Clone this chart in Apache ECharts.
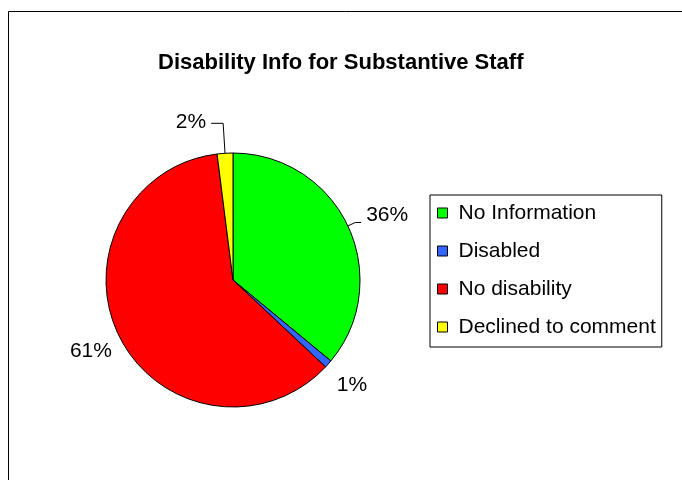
<!DOCTYPE html>
<html>
<head>
<meta charset="utf-8">
<script src="https://cdn.jsdelivr.net/npm/echarts@6/dist/echarts.min.js"></script>
<style>
  html, body { margin: 0; padding: 0; background: #fff; }
  #chart { width: 682px; height: 480px; }
</style>
</head>
<body>
<div id="chart"></div>
<script>
const categories = ['No Information', 'Disabled', 'No disability', 'Declined to comment'];
const values = [36, 1, 61, 2];
const colors = ['#00FF00', '#3366FF', '#FF0000', '#FFFF00'];

const FONT = '"Liberation Sans", Arial, sans-serif';

// per-slice label placement tweaks (style only)
const labelCfg = [
  { line: true,  length: 8,  length2: 6,  dx: 0,  dy: -7 },
  { line: false, length: 14, length2: 0,  dx: -7, dy: 12 },
  { line: false, length: 10, length2: 0,  dx: 6,  dy: 9 },
  { line: true,  length: 30, length2: 12, dx: 0,  dy: -1 }
];

const data = categories.map((name, i) => ({
  name: name,
  value: values[i],
  itemStyle: { color: colors[i] },
  labelLine: { show: labelCfg[i].line, length: labelCfg[i].length, length2: labelCfg[i].length2 }
}));

const chart = echarts.init(document.getElementById('chart'), null, { renderer: 'canvas' });
chart.setOption({
  backgroundColor: '#ffffff',
  animation: false,
  graphic: [{
    type: 'rect',
    shape: { x: 8.5, y: 11.5, width: 900, height: 700 },
    style: { fill: 'none', stroke: '#000', lineWidth: 1 },
    silent: true,
    z: -1
  }],
  title: {
    text: 'Disability Info for Substantive Staff',
    left: 158,
    top: 52,
    padding: 0,
    textStyle: { fontFamily: FONT, fontSize: 22, fontWeight: 'bold', color: '#000' }
  },
  legend: {
    orient: 'vertical',
    left: 430,
    top: 195,
    padding: [7, 6, 9, 7],
    borderColor: '#000',
    borderWidth: 1,
    icon: 'rect',
    itemWidth: 10,
    itemHeight: 10,
    itemGap: 16,
    data: categories,
    itemStyle: { borderColor: '#000', borderWidth: 1 },
    textStyle: { fontFamily: FONT, fontSize: 21, lineHeight: 22, color: '#000', padding: [0, 0, 0, 6] }
  },
  series: [{
    type: 'pie',
    center: [233, 280],
    radius: 127,
    startAngle: 90,
    clockwise: true,
    avoidLabelOverlap: false,
    itemStyle: { borderColor: '#000', borderWidth: 1 },
    label: {
      show: true,
      position: 'outside',
      fontFamily: FONT,
      fontSize: 21,
      color: '#000',
      formatter: p => Math.round(p.percent) + '%'
    },
    labelLayout: p => ({ dx: labelCfg[p.dataIndex].dx, dy: labelCfg[p.dataIndex].dy }),
    labelLine: { lineStyle: { color: '#000', width: 1 } },
    emphasis: { disabled: true },
    data: data
  }]
});
</script>
</body>
</html>
